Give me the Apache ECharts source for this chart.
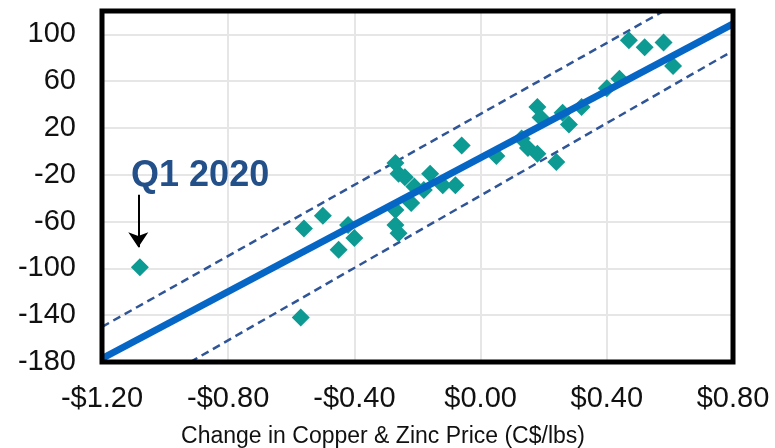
<!DOCTYPE html>
<html>
<head>
<meta charset="utf-8">
<script src="https://cdn.jsdelivr.net/npm/echarts@6/dist/echarts.min.js"></script>
<style>
  html, body { margin: 0; padding: 0; background: #fff; }
  #Echarts { width: 775px; height: 448px; }
</style>
</head>
<body>
<div id="Echarts"></div>
<script>
// 数据：铜锌价格变化 vs 收益变化
var priceChange = [-1.08, -0.57, -0.56, -0.50, -0.45, -0.42, -0.40, -0.27, -0.26, -0.24, -0.16, -0.21,
  -0.18, -0.22, -0.27, -0.27, -0.26, -0.12, -0.08, -0.06, 0.05, 0.13, 0.15, 0.18, 0.24, 0.18,
  0.19, 0.26, 0.28, 0.32, 0.40, 0.44, 0.47, 0.52, 0.58, 0.61]
var valueChange = [-99, -142, -66, -55, -84, -63, -74, -10, -19, -22, -19, -30,
  -33, -44, -50, -63, -70, -29, -29, 5, -4, 11, 3, -2, -9, 38,
  29, 33, 23, 38, 54, 62, 95, 89, 93, 73]

// 趋势线及上下界
var fitX = [-1.2, 0.8]
var fitY = [-177, 109]
var upperX = [-1.2, 0.58]
var upperY = [-150, 120]
var lowerX = [-0.92, 0.8]
var lowerY = [-180, 86]

// 注释
var noteText = 'Q1 2020'
var notePos = [-0.889, -21.5]
var arrowFrom = [-1.085, -37]
var arrowTo = [-1.085, -82]

function pairs(xs, ys) {
  return xs.map(function (x, i) { return [x, ys[i]] })
}

var font = "'Liberation Sans', Arial, sans-serif"
var myChart = echarts.init(document.getElementById('Echarts'))

var option = {
  animation: false,
  grid: {
    left: 102,
    right: 42,
    top: 11,
    bottom: 86,
    show: true,
    borderColor: '#000',
    borderWidth: 5,
    z: 10
  },
  xAxis: {
    type: 'value',
    min: -1.2,
    max: 0.8,
    interval: 0.4,
    axisLine: { show: false },
    axisTick: { show: false },
    splitLine: { showMinLine: false, showMaxLine: false, lineStyle: { color: '#e6e6e6', width: 2 } },
    axisLabel: {
      margin: 22,
      fontSize: 29,
      fontFamily: font,
      color: '#111',
      formatter: function (v) {
        var r = Math.round(v * 100) / 100
        return (r < 0 ? '-' : '') + '$' + Math.abs(r).toFixed(2)
      }
    }
  },
  yAxis: {
    type: 'value',
    min: -180,
    max: 120,
    interval: 40,
    axisLine: { show: false },
    axisTick: { show: false },
    splitLine: { showMinLine: false, showMaxLine: false, lineStyle: { color: '#e6e6e6', width: 2 } },
    axisLabel: {
      margin: 26,
      fontSize: 29,
      fontFamily: font,
      color: '#111',
      formatter: function (v) {
        return v > 100 ? '' : String(v)
      }
    }
  },
  graphic: [
    {
      type: 'text',
      x: 383,
      y: 437,
      style: {
        text: 'Change in Copper & Zinc Price (C$/lbs)',
        fontSize: 23,
        fontFamily: font,
        fill: '#111',
        textAlign: 'center',
        textVerticalAlign: 'middle'
      }
    }
  ],
  series: [
    {
      name: 'upper',
      type: 'line',
      data: pairs(upperX, upperY),
      showSymbol: false,
      lineStyle: { color: '#2f5597', width: 2.5, type: [8, 5] },
      z: 2
    },
    {
      name: 'lower',
      type: 'line',
      data: pairs(lowerX, lowerY),
      showSymbol: false,
      lineStyle: { color: '#2f5597', width: 2.5, type: [8, 5] },
      z: 2
    },
    {
      name: 'points',
      type: 'scatter',
      data: pairs(priceChange, valueChange),
      symbol: 'diamond',
      symbolSize: 18,
      itemStyle: { color: '#0d9a93', opacity: 1 },
      z: 3,
      markLine: {
        silent: true,
        symbol: ['none', 'arrow'],
        symbolSize: 15,
        label: { show: false },
        lineStyle: { color: '#000', width: 2, type: 'solid' },
        data: [[{ coord: arrowFrom }, { coord: arrowTo }]]
      },
      markPoint: {
        silent: true,
        symbol: 'rect',
        symbolSize: 1,
        itemStyle: { color: 'rgba(0,0,0,0)' },
        label: {
          show: true,
          position: 'inside',
          formatter: noteText,
          fontSize: 36,
          fontWeight: 'bold',
          fontFamily: font,
          color: '#24508a'
        },
        data: [{ coord: notePos }]
      }
    },
    {
      name: 'fit',
      type: 'line',
      data: pairs(fitX, fitY),
      showSymbol: false,
      lineStyle: { color: '#0666c6', width: 7 },
      z: 4
    }
  ]
}

myChart.setOption(option)
</script>
</body>
</html>
